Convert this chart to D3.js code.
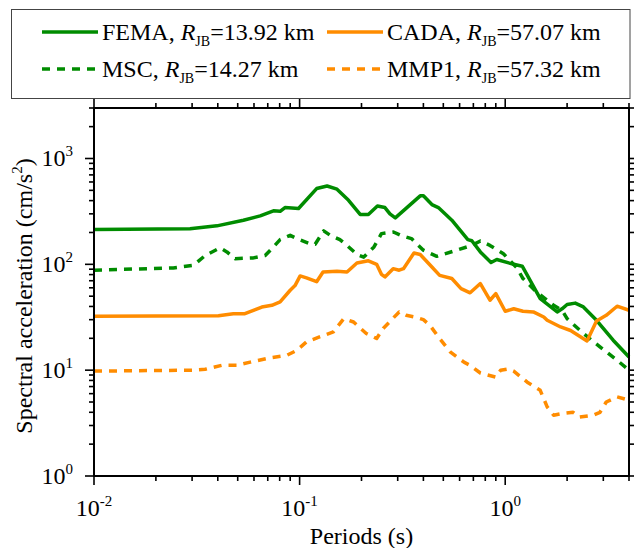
<!DOCTYPE html>
<html>
<head>
<meta charset="utf-8">
<script src="https://cdn.jsdelivr.net/npm/d3@7"></script>
<style>
  body { margin: 0; background: #fff; }
  text { font-family: "Liberation Serif", "Times New Roman", serif; }
</style>
</head>
<body>
<div id="chart"></div>
<script>
// periods (s) and spectral acceleration (cm/s^2)
var femaT  = [0.01, 0.0293, 0.0396, 0.0533, 0.0643, 0.0746, 0.0804, 0.0849, 0.0988, 0.121, 0.136, 0.152, 0.173, 0.197, 0.216, 0.239, 0.26, 0.275, 0.292, 0.386, 0.40, 0.44, 0.473, 0.55, 0.658, 0.688, 0.757, 0.853, 0.91, 1.10, 1.21, 1.48, 1.79, 1.89, 2.0, 2.19, 2.4, 2.78, 3.35, 4.0];
var femaSA = [213, 217, 231, 261, 287, 320, 317, 344, 337, 520, 550, 513, 403, 296, 296, 356, 344, 300, 275, 444, 444, 367, 344, 261, 171, 167, 131, 104, 111, 100, 96, 47.5, 35.5, 38, 41.7, 43, 39.6, 29.6, 19.2, 13.3];

var mscT  = [0.01, 0.0243, 0.0305, 0.0347, 0.041, 0.0443, 0.0485, 0.0596, 0.068, 0.0733, 0.0804, 0.09, 0.0969, 0.112, 0.119, 0.131, 0.141, 0.157, 0.17, 0.19, 0.205, 0.23, 0.25, 0.286, 0.31, 0.35, 0.40, 0.465, 0.58, 0.688, 0.757, 0.843, 0.98, 1.14, 1.22, 1.42, 1.72, 1.89, 2.0, 2.4, 2.89, 3.5, 4.0];
var mscSA = [88, 92.5, 98, 121, 143, 131, 113, 115, 121, 141, 171, 188, 175, 157, 155, 207, 188, 171, 151, 124, 117, 146, 195, 202, 188, 175, 136, 119, 136, 151, 166, 151, 126, 92.5, 73.4, 54.8, 41, 36.8, 30.7, 22.2, 16.6, 12.4, 10];

var cadaT  = [0.01, 0.0403, 0.0476, 0.0542, 0.0655, 0.0733, 0.0804, 0.09, 0.095, 0.1006, 0.108, 0.121, 0.13, 0.152, 0.17, 0.19, 0.216, 0.237, 0.25, 0.26, 0.285, 0.305, 0.32, 0.36, 0.386, 0.44, 0.48, 0.55, 0.61, 0.675, 0.757, 0.843, 0.90, 1.0, 1.1, 1.22, 1.37, 1.54, 1.6, 1.86, 2.08, 2.5, 2.78, 3.1, 3.5, 4.0];
var cadaSA = [32.3, 32.7, 34.2, 34.2, 39.5, 41, 44.1, 56.9, 63, 77.7, 74.5, 68.5, 84.7, 86, 84.7, 103, 108, 100, 80.5, 76, 91, 88, 91, 128, 124, 94.5, 78.7, 73.4, 59, 53.8, 65.8, 45.8, 52.9, 36, 38, 36, 35.5, 31.8, 29.6, 25.6, 23.7, 18.9, 29.2, 33, 40.2, 36.8];

var mmpT  = [0.01, 0.0305, 0.0347, 0.0418, 0.0495, 0.0575, 0.072, 0.0866, 0.097, 0.108, 0.125, 0.146, 0.164, 0.183, 0.211, 0.237, 0.255, 0.305, 0.33, 0.363, 0.40, 0.43, 0.473, 0.54, 0.63, 0.675, 0.757, 0.9, 0.95, 1.04, 1.1, 1.28, 1.48, 1.6, 1.72, 1.9, 2.14, 2.3, 2.68, 2.89, 3.1, 3.5, 4.0];
var mmpSA = [9.8, 10, 10.2, 11.1, 11.1, 11.9, 13.1, 13.8, 15.4, 18.5, 20.6, 23, 30.7, 28.5, 22.2, 19.9, 24.8, 35.5, 33, 31.8, 30, 26.6, 20.6, 14.9, 11.9, 11.1, 9.4, 8.6, 10, 10.3, 9.8, 7.7, 6.45, 4.5, 3.75, 3.9, 4.0, 3.6, 3.75, 4.0, 5.0, 5.6, 5.2];

var seriesNames = ["FEMA", "MSC", "CADA", "MMP1"];
var seriesDist  = ["13.92", "14.27", "57.07", "57.32"];
var xDecades = [-2, -1, 0];
var yDecades = [0, 1, 2, 3];

var green = "#008c00", orange = "#ff8c00";
var series = [
  { name: seriesNames[0], dist: seriesDist[0], T: femaT, SA: femaSA, color: green,  dash: null },
  { name: seriesNames[1], dist: seriesDist[1], T: mscT,  SA: mscSA,  color: green,  dash: "8,7" },
  { name: seriesNames[2], dist: seriesDist[2], T: cadaT, SA: cadaSA, color: orange, dash: null },
  { name: seriesNames[3], dist: seriesDist[3], T: mmpT,  SA: mmpSA,  color: orange, dash: "8,7" }
];

var width = 634, height = 548;
var plotL = 94, plotR = 629, plotT = 108, plotB = 476;

var svg = d3.select("#chart").append("svg")
  .attr("width", width)
  .attr("height", height);

var x = d3.scaleLog().domain([0.01, 4]).range([plotL, plotR]);
var y = d3.scaleLog().domain([1, 3000]).range([plotB, plotT]);

function minorTicks(scale) {
  var d = scale.domain(), out = [];
  for (var e = Math.floor(Math.log10(d[0])); e <= Math.ceil(Math.log10(d[1])); e++) {
    for (var m = 1; m < 10; m++) {
      var v = m * Math.pow(10, e);
      if (v >= d[0] * 0.9999 && v <= d[1] * 1.0001) out.push(v);
    }
  }
  return out;
}
function isMajor(v) { return Math.abs(Math.log10(v) - Math.round(Math.log10(v))) < 1e-6; }

var xt = minorTicks(x), yt = minorTicks(y);
var axes = svg.append("g").attr("stroke", "#000").attr("stroke-width", 1.6);

// bottom + top ticks (outward)
axes.selectAll(".xb").data(xt).enter().append("line")
  .attr("x1", function(d) { return x(d); }).attr("x2", function(d) { return x(d); })
  .attr("y1", plotB).attr("y2", function(d) { return plotB + (isMajor(d) ? 9 : 5); });
axes.selectAll(".xt").data(xt).enter().append("line")
  .attr("x1", function(d) { return x(d); }).attr("x2", function(d) { return x(d); })
  .attr("y1", plotT).attr("y2", function(d) { return plotT - (isMajor(d) ? 9 : 5); });
// left + right ticks (outward)
axes.selectAll(".yl").data(yt).enter().append("line")
  .attr("y1", function(d) { return y(d); }).attr("y2", function(d) { return y(d); })
  .attr("x1", plotL).attr("x2", function(d) { return plotL - (isMajor(d) ? 9 : 5); });
axes.selectAll(".yr").data(yt).enter().append("line")
  .attr("y1", function(d) { return y(d); }).attr("y2", function(d) { return y(d); })
  .attr("x1", plotR).attr("x2", function(d) { return plotR + (isMajor(d) ? 9 : 5); });

// curves
var line = d3.line()
  .x(function(d) { return x(d[0]); })
  .y(function(d) { return y(d[1]); });

svg.append("g").selectAll("path").data(series).enter().append("path")
  .attr("d", function(s) { return line(d3.zip(s.T, s.SA)); })
  .attr("fill", "none")
  .attr("stroke", function(s) { return s.color; })
  .attr("stroke-width", 3.5)
  .attr("stroke-linejoin", "round")
  .attr("stroke-dasharray", function(s) { return s.dash; });

// frame
svg.append("rect")
  .attr("x", plotL).attr("y", plotT)
  .attr("width", plotR - plotL).attr("height", plotB - plotT)
  .attr("fill", "none").attr("stroke", "#000").attr("stroke-width", 2);

// tick labels
var xl = svg.append("g").selectAll("text").data(xDecades).enter().append("text")
  .attr("x", function(d) { return x(Math.pow(10, d)); })
  .attr("y", 516)
  .attr("text-anchor", "middle")
  .attr("font-size", 24);
xl.append("tspan").text("10");
xl.append("tspan").attr("dy", -10).attr("font-size", 15).text(function(d) { return d; });

var yl = svg.append("g").selectAll("text").data(yDecades).enter().append("text")
  .attr("x", 73)
  .attr("y", function(d) { return y(Math.pow(10, d)) + 8; })
  .attr("text-anchor", "end")
  .attr("font-size", 24);
yl.append("tspan").text("10");
yl.append("tspan").attr("dy", -10).attr("font-size", 15).text(function(d) { return d; });

// axis titles
svg.append("text")
  .attr("x", (plotL + plotR) / 2).attr("y", 544)
  .attr("text-anchor", "middle").attr("font-size", 24)
  .text("Periods (s)");

var yt2 = svg.append("text")
  .attr("transform", "translate(32," + ((plotT + plotB) / 2 + 4) + ") rotate(-90)")
  .attr("text-anchor", "middle").attr("font-size", 24);
yt2.append("tspan").text("Spectral acceleration (cm/s");
yt2.append("tspan").attr("dy", -10).attr("font-size", 15).text("2");
yt2.append("tspan").attr("dy", 10).text(")");

// legend
var legend = svg.append("g");
legend.append("rect")
  .attr("x", 11.5).attr("y", 9.5).attr("width", 618.5).attr("height", 89)
  .attr("fill", "#fff").attr("stroke", "#444").attr("stroke-width", 1);

var legPos = [[42, 32], [42, 69], [327, 32], [327, 69]];
series.forEach(function(s, i) {
  var p = legPos[i];
  legend.append("line")
    .attr("x1", p[0]).attr("x2", p[0] + 56)
    .attr("y1", p[1]).attr("y2", p[1])
    .attr("stroke", s.color).attr("stroke-width", 3.5)
    .attr("stroke-dasharray", s.dash);
  var t = legend.append("text")
    .attr("x", p[0] + 60).attr("y", p[1] + 8)
    .attr("font-size", 24);
  t.append("tspan").text(s.name + ", ");
  t.append("tspan").attr("font-style", "italic").text("R");
  t.append("tspan").attr("dy", 6).attr("font-size", 14).text("JB");
  t.append("tspan").attr("dy", -6).text("=" + s.dist + " km");
});
</script>
</body>
</html>
